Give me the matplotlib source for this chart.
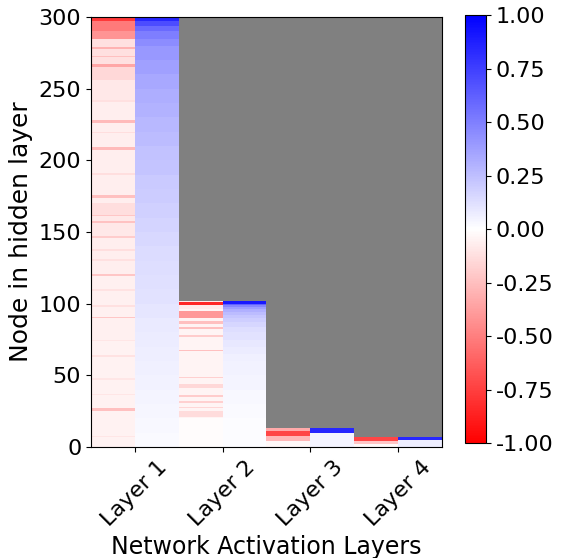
import numpy as np
import matplotlib.pyplot as plt

layer_names = ['Layer 1', 'Layer 2', 'Layer 3', 'Layer 4']
layer_sizes = [300, 102, 13, 7]

# stripes as (first node, last node, activation); later entries paint over earlier ones
l1_neg = [(0, 299, -0.05), (7, 7, -0.1), (25, 26, -0.25), (36, 36, -0.1), (47, 47, -0.1),
          (63, 63, -0.11), (74, 74, -0.1), (75, 120, -0.06), (90, 90, -0.22), (98, 98, -0.12),
          (109, 109, -0.11), (119, 120, -0.22), (121, 255, -0.07), (130, 130, -0.12),
          (137, 137, -0.13), (146, 146, -0.2), (147, 160, -0.09), (156, 157, -0.24),
          (161, 161, -0.22), (162, 169, -0.13), (174, 175, -0.25), (190, 190, -0.13),
          (207, 208, -0.27), (219, 219, -0.13), (226, 227, -0.27), (241, 241, -0.12),
          (242, 255, -0.09), (256, 264, -0.15), (265, 266, -0.35), (267, 284, -0.12),
          (272, 272, -0.25), (278, 278, -0.3), (285, 289, -0.42), (290, 296, -0.52),
          (297, 299, -0.78)]
l1_pos = [(0, 9, 0.02), (10, 19, 0.03), (20, 29, 0.035), (30, 39, 0.04), (40, 49, 0.05),
          (50, 59, 0.055), (60, 69, 0.065), (70, 79, 0.075), (80, 89, 0.085), (90, 99, 0.095),
          (100, 109, 0.11), (110, 119, 0.12), (120, 129, 0.13), (130, 139, 0.14),
          (140, 149, 0.15), (150, 159, 0.17), (160, 169, 0.18), (170, 179, 0.2),
          (180, 189, 0.21), (190, 199, 0.23), (200, 209, 0.24), (210, 219, 0.26),
          (220, 229, 0.28), (230, 239, 0.3), (240, 249, 0.32), (250, 259, 0.34),
          (260, 269, 0.37), (270, 279, 0.4), (280, 284, 0.45), (285, 289, 0.5),
          (290, 293, 0.58), (294, 296, 0.7), (297, 298, 0.85), (299, 299, 0.95)]

l2_neg = [(0, 19, -0.01), (20, 101, -0.04), (101, 101, -0.08), (99, 100, -0.85), (96, 98, -0.08),
          (90, 94, -0.4), (86, 87, -0.25), (82, 83, -0.25), (77, 77, -0.2), (67, 67, -0.25),
          (48, 48, -0.18), (41, 43, -0.15), (35, 35, -0.2), (31, 31, -0.18), (27, 27, -0.16),
          (21, 24, -0.14)]
l2_pos = [(0, 9, 0.01), (10, 19, 0.015), (20, 29, 0.02), (30, 39, 0.03), (40, 49, 0.04),
          (50, 59, 0.05), (60, 64, 0.06), (65, 69, 0.075), (70, 74, 0.09), (75, 79, 0.11),
          (80, 83, 0.13), (84, 86, 0.16), (87, 89, 0.19), (90, 91, 0.22), (92, 93, 0.26),
          (94, 95, 0.31), (96, 97, 0.38), (98, 98, 0.47), (99, 99, 0.62), (100, 101, 0.9)]

l3_neg = [(0, 3, -0.03), (4, 7, -0.28), (8, 10, -0.72), (11, 12, -0.33)]
l3_pos = [(0, 9, 0.04), (10, 12, 0.85)]

l4_neg = [(0, 1, -0.02), (2, 3, -0.22), (4, 6, -0.72)]
l4_pos = [(0, 4, 0.07), (5, 6, 0.85)]

columns = [l1_neg, l1_pos, l2_neg, l2_pos, l3_neg, l3_pos, l4_neg, l4_pos]

grid = np.full((300, 8), np.nan)
for col, stripes in enumerate(columns):
    for lo, hi, val in stripes:
        grid[lo:hi + 1, col] = val

fig = plt.figure(figsize=(5.64, 5.58), dpi=100)
ax = fig.add_axes([0.1613, 0.1989, 0.6224, 0.7706])
cax = fig.add_axes([0.8245, 0.206, 0.0372, 0.767])

cmap = plt.get_cmap('bwr_r').copy()
cmap.set_bad('gray')
mesh = ax.pcolormesh(np.arange(9), np.arange(301), np.ma.masked_invalid(grid),
                     cmap=cmap, vmin=-1, vmax=1)
ax.set_facecolor('gray')
ax.set_xlim(0, 8)
ax.set_ylim(0, 300)

ax.set_xticks([1, 3, 5, 7])
ax.set_xticklabels(layer_names, rotation=45, fontsize=16)
ax.tick_params(axis='y', labelsize=16)
ax.set_xlabel('Network Activation Layers', fontsize=17)
ax.set_ylabel('Node in hidden layer', fontsize=18)

cb = fig.colorbar(mesh, cax=cax, ticks=np.arange(-1, 1.01, 0.25), format='%.2f')
cb.ax.tick_params(labelsize=16)

plt.savefig('out.png', dpi=100)
